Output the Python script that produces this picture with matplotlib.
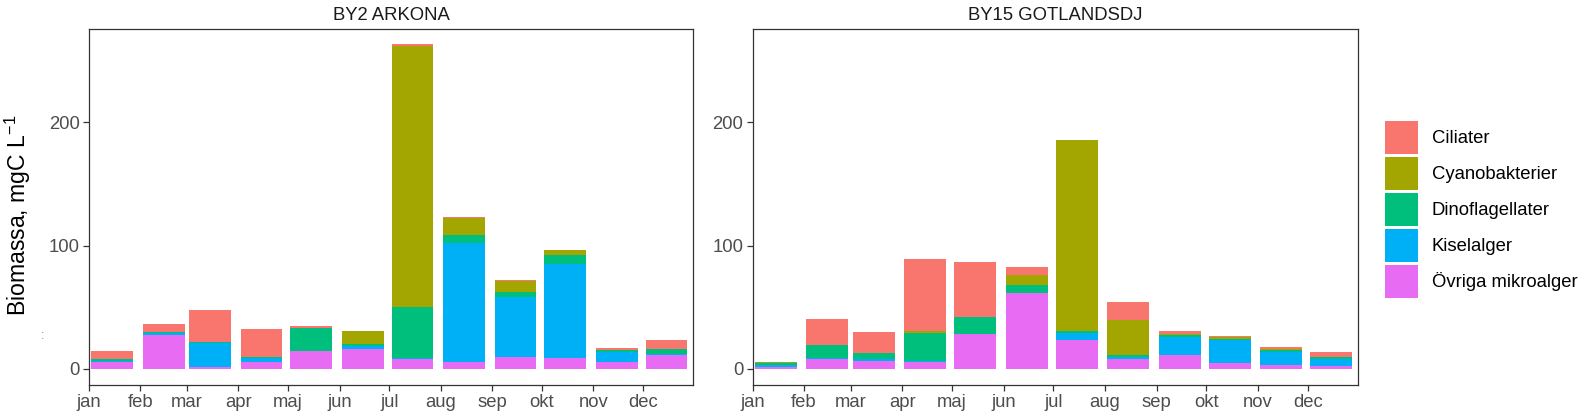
import datetime as dt
import matplotlib
matplotlib.use("Agg")
import matplotlib.pyplot as plt
import matplotlib.dates as mdates
from matplotlib.patches import Patch

plt.rcParams['font.family'] = ['Liberation Sans', 'DejaVu Sans']
plt.rcParams['mathtext.fontset'] = 'custom'
plt.rcParams['mathtext.rm'] = 'Liberation Sans'
plt.rcParams['mathtext.it'] = 'Liberation Sans'

# ---------------- data ----------------
months = ["jan", "feb", "mar", "apr", "maj", "jun", "jul", "aug", "sep", "okt", "nov", "dec"]
groups = ["Ciliater", "Cyanobakterier", "Dinoflagellater", "Kiselalger", "Övriga mikroalger"]
colors = ["#F8766D", "#A3A500", "#00BF7D", "#00B0F6", "#E76BF3"]
stations = ["BY2 ARKONA", "BY15 GOTLANDSDJ"]

# BY2 ARKONA
arkona_ciliater = [6.7, 7.0, 26.0, 22.0, 1.9, 0.2, 2.1, 0.3, 1.3, 0.3, 1.1, 7.6]
arkona_cyano    = [0.0, 0.0, 0.2, 0.0, 0.0, 10.3, 211.4, 14.1, 8.4, 4.3, 0.5, 0.0]
arkona_dino     = [1.1, 0.7, 1.2, 0.8, 18.2, 1.9, 41.5, 6.5, 4.6, 7.3, 1.6, 4.0]
arkona_kisel    = [1.2, 1.5, 19.0, 3.8, 0.6, 2.2, 0.8, 96.3, 48.3, 75.7, 8.2, 0.6]
arkona_ovriga   = [5.4, 27.4, 1.6, 5.4, 14.1, 16.0, 7.9, 5.7, 9.8, 9.0, 5.4, 11.4]

# BY15 GOTLANDSDJ
gotland_ciliater = [0.7, 21.4, 17.3, 58.9, 45.0, 7.0, 0.3, 14.9, 1.9, 1.4, 1.1, 3.8]
gotland_cyano    = [0.8, 0.0, 0.0, 1.4, 0.0, 7.9, 154.9, 28.7, 1.4, 1.1, 1.1, 0.0]
gotland_dino     = [1.2, 10.3, 4.9, 22.5, 13.6, 6.2, 1.6, 1.1, 1.1, 0.8, 1.6, 1.1]
gotland_kisel    = [1.6, 0.9, 1.1, 0.8, 0.6, 0.6, 5.5, 1.4, 15.1, 19.0, 10.3, 6.2]
gotland_ovriga   = [1.6, 8.1, 6.5, 5.7, 27.9, 61.3, 23.3, 8.4, 10.9, 4.6, 3.3, 2.2]

station_data = {
    "BY2 ARKONA": [arkona_ciliater, arkona_cyano, arkona_dino, arkona_kisel, arkona_ovriga],
    "BY15 GOTLANDSDJ": [gotland_ciliater, gotland_cyano, gotland_dino, gotland_kisel, gotland_ovriga],
}

YEAR = 2021
bar_dates = [dt.date(YEAR, m, 15) for m in range(1, 13)]
tick_dates = [dt.date(YEAR, m, 1) for m in range(1, 13)]
bar_x = mdates.date2num(bar_dates)
tick_x = mdates.date2num(tick_dates)
bar_width = 25.2  # days

# ---------------- figure ----------------
W, H = 1590, 419
fig = plt.figure(figsize=(W / 100, H / 100), dpi=100)

def frac_rect(x0, x1, ytop, ybot):
    return [x0 / W, 1 - ybot / H, (x1 - x0) / W, (ybot - ytop) / H]

axes_rects = [frac_rect(89, 693, 29.3, 385), frac_rect(752.5, 1357.7, 29.3, 385)]

edge_col = "#333333"
tick_col = "#4D4D4D"
small_fs = 13.3

for st, rect in zip(stations, axes_rects):
    ax = fig.add_axes(rect)
    series = station_data[st]
    # stack: bottom is the last group (Övriga), top is the first (Ciliater)
    bottom = [0.0] * 12
    for gi in reversed(range(len(groups))):
        vals = series[gi]
        ax.bar(bar_x, vals, width=bar_width, bottom=bottom, color=colors[gi],
               linewidth=0, align='center')
        bottom = [b + v for b, v in zip(bottom, vals)]
    ax.set_xlim(mdates.date2num(dt.date(YEAR, 1, 1)), mdates.date2num(dt.date(YEAR, 12, 31)))
    ax.set_ylim(-13.1, 275.5)
    ax.set_xticks(tick_x)
    ax.set_xticklabels(months)
    ax.set_yticks([0, 100, 200])
    ax.tick_params(axis='both', length=4.2, width=0.9, color=edge_col,
                   labelsize=small_fs, labelcolor=tick_col, pad=2.5)
    for sp in ax.spines.values():
        sp.set_color(edge_col)
        sp.set_linewidth(0.9)
    ax.set_title(st, fontsize=small_fs, color="#1A1A1A", pad=7)

fig.text(18 / W, 1 - 215 / H, r"Biomassa, mgC L$^{-1}$", rotation=90,
         ha='center', va='center', fontsize=16.6, color='black')
fig.text(42.7 / W, 1 - 336 / H, ":", ha='center', va='center', fontsize=9, color='#8A8A8A')

handles = [Patch(facecolor=c, edgecolor='none') for c in colors]
fig.legend(handles, groups, loc='upper left',
           bbox_to_anchor=(1385 / W, 1 - 121 / H),
           frameon=False, fontsize=small_fs,
           handlelength=1.78, handleheight=2.37, labelspacing=0.16,
           handletextpad=0.76, borderpad=0, borderaxespad=0)

fig.savefig("out.png", dpi=100)
